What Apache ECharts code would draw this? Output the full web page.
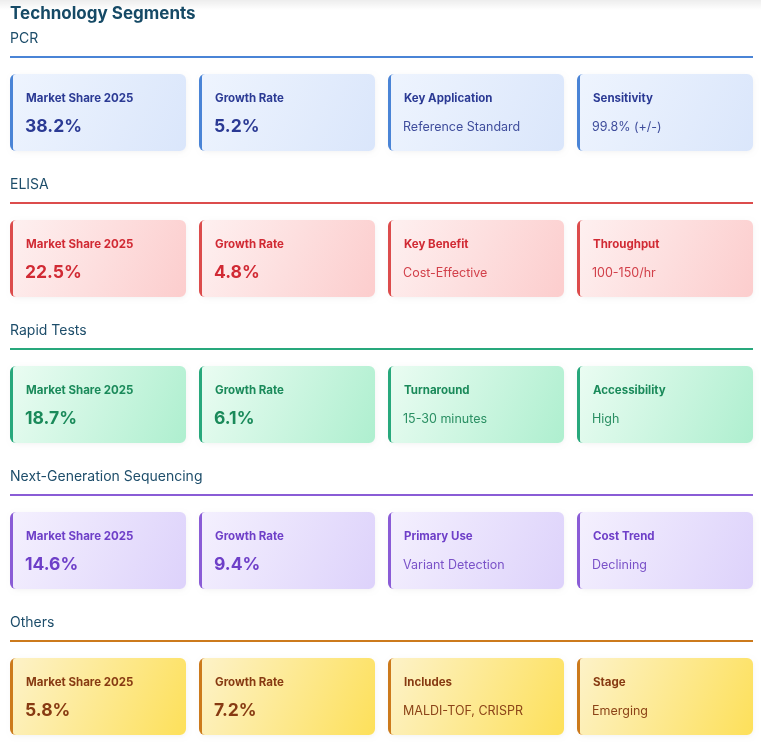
<!DOCTYPE html>
<html>
<head>
<meta charset="utf-8">
<script src="https://cdn.jsdelivr.net/npm/echarts@6/dist/echarts.min.js"></script>
<style>
  html, body { margin: 0; padding: 0; background: #fff; }
  #chart { width: 761px; height: 752px; }
</style>
</head>
<body>
<div id="chart"></div>
<script>
const segments = ['PCR', 'ELISA', 'Rapid Tests', 'Next-Generation Sequencing', 'Others'];
const metricLabels = [
    ['Market Share 2025', 'Growth Rate', 'Key Application', 'Sensitivity'],
    ['Market Share 2025', 'Growth Rate', 'Key Benefit', 'Throughput'],
    ['Market Share 2025', 'Growth Rate', 'Turnaround', 'Accessibility'],
    ['Market Share 2025', 'Growth Rate', 'Primary Use', 'Cost Trend'],
    ['Market Share 2025', 'Growth Rate', 'Includes', 'Stage']
];
const marketShare = [38.2, 22.5, 18.7, 14.6, 5.8];
const growthRate = [5.2, 4.8, 6.1, 9.4, 7.2];
const detailValues = [
    ['Reference Standard', '99.8% (+/-)'],
    ['Cost-Effective', '100-150/hr'],
    ['15-30 minutes', 'High'],
    ['Variant Detection', 'Declining'],
    ['MALDI-TOF, CRISPR', 'Emerging']
];

// accent, text, gradient start, gradient end
const palette = [
    { accent: '#4a84d6', text: '#2b3a94', soft: '#3f4d9c', from: '#eef4fe', to: '#dae6fb' },
    { accent: '#dc4c4c', text: '#d12a34', soft: '#d2404a', from: '#fef0f0', to: '#fccdcd' },
    { accent: '#28a87c', text: '#1a8a5a', soft: '#2a8f63', from: '#eafcf2', to: '#aeefcf' },
    { accent: '#8a5cd6', text: '#6e3fc8', soft: '#7a52c8', from: '#f4f0fe', to: '#ddd2fb' },
    { accent: '#cc7a1c', text: '#873a12', soft: '#8c4418', from: '#fdf2c8', to: '#fde05a' }
];

const FONT = 'Inter, "Noto Sans", sans-serif';
const GAP = 13;

const cardData = [];
segments.forEach((s, r) => {
    for (let c = 0; c < 4; c++) cardData.push([c, r]);
});
const headerData = segments.map((s, r) => [0, r]);

function cardValue(r, c) {
    if (c === 0) return marketShare[r].toFixed(1) + '%';
    if (c === 1) return growthRate[r].toFixed(1) + '%';
    return detailValues[r][c - 2];
}

function renderHeader(params, api) {
    const r = api.value(1);
    const p0 = api.coord([0, r]);
    const p1 = api.coord([4, r]);
    const col = palette[r];
    return {
        type: 'group',
        children: [
            {
                type: 'text',
                style: {
                    x: p0[0], y: p0[1] + 9, text: segments[r],
                    fill: '#1d4d6a', font: '14px ' + FONT,
                    verticalAlign: 'middle'
                }
            },
            {
                type: 'rect',
                shape: { x: p0[0], y: p0[1] + 26, width: p1[0] - p0[0] - GAP, height: 2 },
                style: { fill: col.accent }
            }
        ]
    };
}

function renderCard(params, api) {
    const c = api.value(0), r = api.value(1);
    const p0 = api.coord([c, r]);
    const p1 = api.coord([c + 1, r]);
    const x = p0[0], w = p1[0] - p0[0] - GAP;
    const top = p0[1] + 44, h = 77;
    const col = palette[r];
    const bold = c < 2;
    return {
        type: 'group',
        children: [
            {
                type: 'rect',
                shape: { x: x + 2, y: top + 1, width: w - 2, height: h - 1, r: 6 },
                style: { fill: '#ffffff', shadowBlur: 5, shadowColor: 'rgba(0,0,0,0.05)', shadowOffsetY: 1 }
            },
            {
                type: 'rect',
                shape: { x: x, y: top, width: 10, height: h, r: [6, 0, 0, 6] },
                style: { fill: col.accent }
            },
            {
                type: 'rect',
                shape: { x: x + 3, y: top, width: w - 3, height: h, r: [3, 6, 6, 3] },
                style: {
                    fill: new echarts.graphic.LinearGradient(0, 0, 1, 1, [
                        { offset: 0, color: col.from },
                        { offset: 1, color: col.to }
                    ])
                }
            },
            {
                type: 'text',
                style: {
                    x: x + 16, y: top + 25, text: metricLabels[r][c],
                    fill: col.text, font: 'bold 11.5px ' + FONT,
                    verticalAlign: 'middle'
                }
            },
            {
                type: 'text',
                style: {
                    x: x + 15, y: top + 53, text: cardValue(r, c),
                    fill: bold ? col.text : col.soft,
                    font: bold ? 'bold 17.5px ' + FONT : '12.5px ' + FONT,
                    verticalAlign: 'middle'
                }
            }
        ]
    };
}

const chart = echarts.init(document.getElementById('chart'), null, { renderer: 'canvas' });
chart.setOption({
    backgroundColor: '#ffffff',
    animation: false,
    title: {
        text: 'Technology Segments',
        left: 10, top: 5, padding: 0,
        textStyle: { fontFamily: FONT, fontSize: 17, fontWeight: 'bold', color: '#164a66' }
    },
    graphic: [{
        type: 'rect', left: 0, top: 0,
        shape: { width: 761, height: 10 },
        style: {
            fill: new echarts.graphic.LinearGradient(0, 0, 0, 1, [
                { offset: 0, color: 'rgba(0,0,0,0.07)' },
                { offset: 1, color: 'rgba(0,0,0,0)' }
            ])
        },
        silent: true
    }],
    grid: { left: 10, top: 30, width: 756, height: 730, containLabel: false, outerBoundsMode: 'none' },
    xAxis: { type: 'value', min: 0, max: 4, show: false },
    yAxis: { type: 'value', min: 0, max: 5, inverse: true, show: false },
    series: [
        { type: 'custom', data: headerData, renderItem: renderHeader, clip: false, silent: true },
        { type: 'custom', data: cardData, renderItem: renderCard, clip: false, silent: true }
    ]
});
</script>
</body>
</html>
